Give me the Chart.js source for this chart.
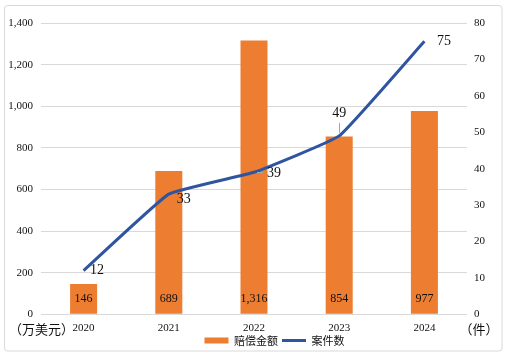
<!DOCTYPE html>
<html><head><meta charset="utf-8">
<script src="https://cdn.jsdelivr.net/npm/chart.js@4.4.1/dist/chart.umd.min.js"></script>
<style>html,body{margin:0;padding:0;background:#fff;}canvas{display:block;}</style>
</head><body>
<canvas id="c" width="507" height="357"></canvas>
<script>
const years = ['2020', '2021', '2022', '2023', '2024'];
const amounts = [146, 689, 1316, 854, 977];
const cases = [12, 33, 39, 49, 75];
const seriesNames = ['赔偿金额', '案件数'];
const leftAxis = {min: 0, max: 1400, step: 200, unit: '（万美元）'};
const rightAxis = {min: 0, max: 80, step: 10, unit: '（件）'};

const barColor = '#ED7D31';
const lineColor = '#2F55A0';
const gridColor = '#D9D9D9';
const textColor = '#111';
const serif = '"Liberation Serif", "Times New Roman", serif';
const cjk = '"Noto Sans CJK SC", "Noto Sans", sans-serif';
const fmt = v => v.toLocaleString('en-US');

// label offsets (dx, dy) for line point labels
const lineLabelPos = [[13.5, 0], [15, 5], [20, 1], [0, -23], [19.5, 0]];

const decor = {
  id: 'decor',
  beforeDraw(chart) {
    const ctx = chart.ctx;
    ctx.save();
    ctx.fillStyle = '#fff';
    ctx.fillRect(0, 0, chart.width, chart.height);
    ctx.strokeStyle = gridColor;
    ctx.lineWidth = 1;
    ctx.beginPath();
    ctx.roundRect(4.5, 5.5, 497.5, 345.5, 3);
    ctx.stroke();
    ctx.restore();
  },
  afterLayout(chart) {
    const l = chart.legend;
    if (l) { l.left += 21; l.right += 21; l.top -= 10.5; l.bottom -= 10.5; }
  },
  afterDatasetsDraw(chart) {
    const ctx = chart.ctx;
    ctx.save();
    ctx.fillStyle = textColor;
    ctx.textAlign = 'center';
    ctx.textBaseline = 'middle';
    ctx.font = '12px ' + serif;
    chart.getDatasetMeta(0).data.forEach((el, i) => {
      ctx.fillText(fmt(amounts[i]), el.x, el.base - 14.5);
    });
    const pts = chart.getDatasetMeta(1).data;
    ctx.strokeStyle = '#A6A6A6';
    ctx.lineWidth = 1;
    ctx.beginPath();
    ctx.moveTo(pts[2].x + 3, Math.round(pts[2].y) + 0.5);
    ctx.lineTo(pts[2].x + 9, Math.round(pts[2].y) + 0.5);
    ctx.moveTo(Math.round(pts[3].x) + 0.5, pts[3].y - 3);
    ctx.lineTo(Math.round(pts[3].x) + 0.5, pts[3].y - 13);
    ctx.stroke();
    ctx.font = '14px ' + serif;
    pts.forEach((el, i) => {
      ctx.fillText(String(cases[i]), el.x + lineLabelPos[i][0], el.y + lineLabelPos[i][1]);
    });
    ctx.font = '13px ' + cjk;
    const yb = chart.chartArea.bottom + 14.5;
    ctx.fillText(leftAxis.unit, 41.5, yb);
    ctx.fillText(rightAxis.unit, 479, yb);
    ctx.restore();
  }
};

new Chart(document.getElementById('c'), {
  data: {
    labels: years,
    datasets: [
      {type: 'bar', label: seriesNames[0], data: amounts, yAxisID: 'y',
       backgroundColor: barColor, borderWidth: 0, order: 1,
       categoryPercentage: 1, barPercentage: 0.317},
      {type: 'line', label: seriesNames[1], data: cases, yAxisID: 'y1',
       borderColor: lineColor, backgroundColor: lineColor, borderWidth: 3,
       pointRadius: 0, tension: 0.1, order: 0}
    ]
  },
  options: {
    responsive: false,
    animation: false,
    layout: {padding: {left: 0, right: 0, top: 23, bottom: -9.5}},
    plugins: {
      tooltip: {enabled: false},
      legend: {
        position: 'bottom',
        labels: {
          usePointStyle: true,
          pointStyleWidth: 24,
          boxHeight: 6,
          padding: 4,
          color: textColor,
          font: {family: cjk, size: 11},
          generateLabels(chart) {
            const items = Chart.defaults.plugins.legend.labels.generateLabels(chart);
            items.sort((a, b) => a.datasetIndex - b.datasetIndex);
            items[0].pointStyle = 'rect'; items[0].lineWidth = 0;
            items[1].pointStyle = 'line'; items[1].lineWidth = 3; items[1].strokeStyle = lineColor;
            return items;
          }
        }
      }
    },
    scales: {
      x: {
        grid: {display: false, drawTicks: false},
        border: {display: false},
        ticks: {color: textColor, font: {family: serif, size: 11}, padding: 7}
      },
      y: {
        position: 'left',
        min: leftAxis.min, max: leftAxis.max,
        ticks: {stepSize: leftAxis.step, padding: 8, color: textColor,
                font: {family: serif, size: 11}, callback: v => fmt(v)},
        grid: {color: gridColor, drawTicks: false},
        border: {display: false},
        afterFit(s) { s.width = 41; }
      },
      y1: {
        position: 'right',
        min: rightAxis.min, max: rightAxis.max,
        ticks: {stepSize: rightAxis.step, padding: 7, color: textColor,
                font: {family: serif, size: 11}},
        grid: {display: false, drawTicks: false},
        border: {display: false},
        afterFit(s) { s.width = 40; }
      }
    }
  },
  plugins: [decor]
});
</script>
</body></html>
